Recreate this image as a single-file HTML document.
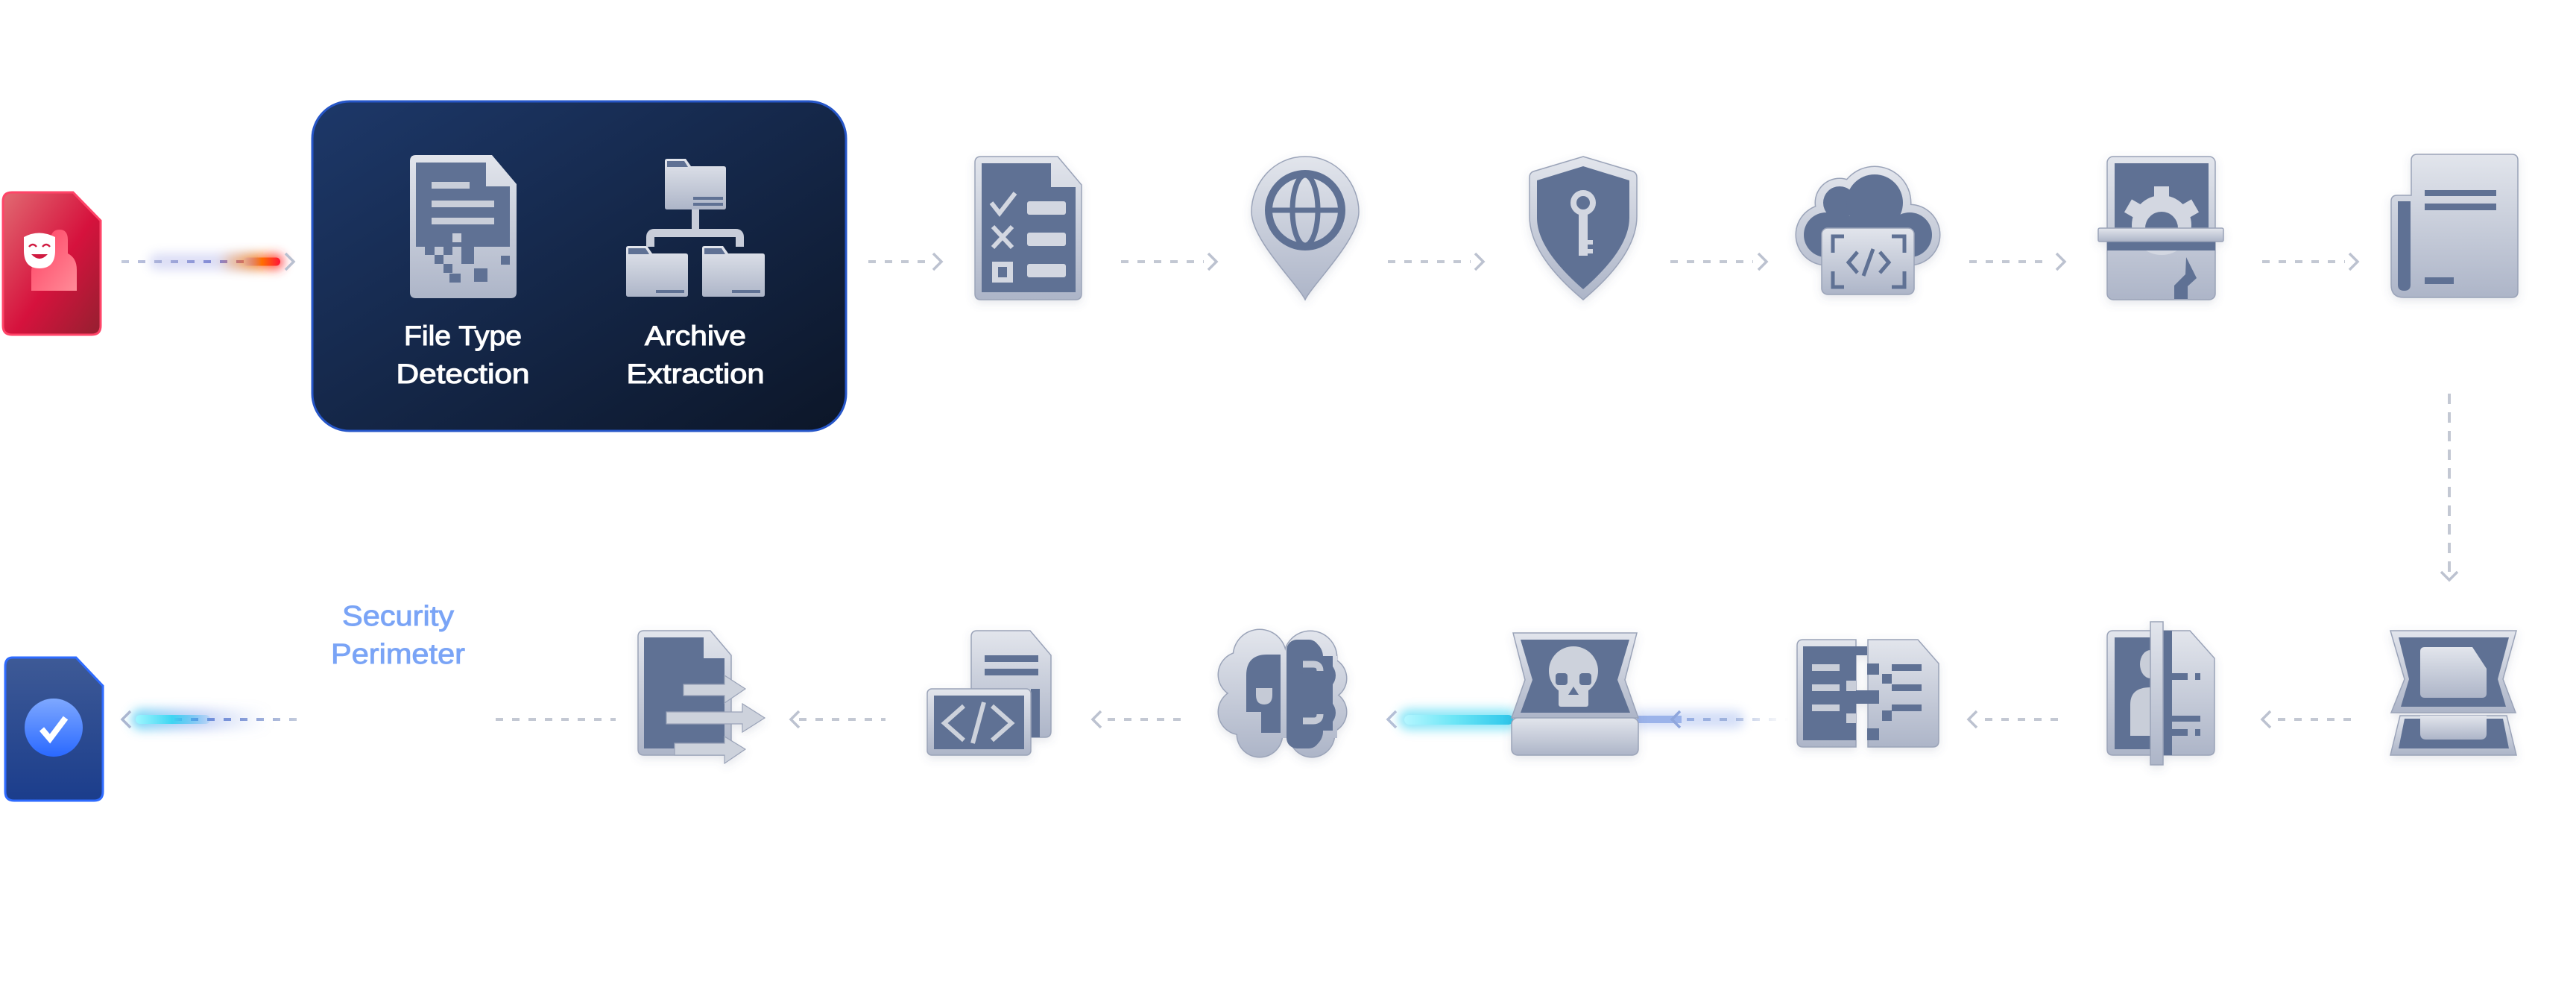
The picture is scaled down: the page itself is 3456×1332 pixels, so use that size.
<!DOCTYPE html>
<html><head><meta charset="utf-8"><style>
html,body{margin:0;padding:0;background:#fff;}
svg{display:block;}
</style></head><body>
<svg width="3456" height="1332" viewBox="0 0 3456 1332" xmlns="http://www.w3.org/2000/svg">
<defs>
<linearGradient id="gL" x1="0" y1="0" x2="0" y2="1"><stop offset="0" stop-color="#e2e5ec"/><stop offset="1" stop-color="#adb5c8"/></linearGradient>
<linearGradient id="gCloud" gradientUnits="userSpaceOnUse" x1="0" y1="225" x2="0" y2="395"><stop offset="0" stop-color="#e2e5ec"/><stop offset="1" stop-color="#adb5c8"/></linearGradient>
<linearGradient id="gBr" gradientUnits="userSpaceOnUse" x1="0" y1="847" x2="0" y2="1015"><stop offset="0" stop-color="#e2e5ec"/><stop offset="1" stop-color="#adb5c8"/></linearGradient>
<linearGradient id="gBox" x1="0" y1="0" x2="1" y2="1"><stop offset="0" stop-color="#1d3869"/><stop offset="1" stop-color="#0c1628"/></linearGradient>
<linearGradient id="gRed" x1="0" y1="0" x2="1" y2="1"><stop offset="0" stop-color="#e16a72"/><stop offset=".55" stop-color="#d6123d"/><stop offset="1" stop-color="#942030"/></linearGradient>
<linearGradient id="gPink" x1="0" y1="0" x2="1" y2="1"><stop offset="0" stop-color="#ff3f62"/><stop offset="1" stop-color="#ff8c98"/></linearGradient>
<linearGradient id="gBlue" x1="0" y1="0" x2="0" y2="1"><stop offset="0" stop-color="#3e5a96"/><stop offset="1" stop-color="#1b3d8c"/></linearGradient>
<linearGradient id="gCirc" x1="0" y1="0" x2="0" y2="1"><stop offset="0" stop-color="#7ea8ff"/><stop offset="1" stop-color="#2a69ff"/></linearGradient>
<linearGradient id="gRd" gradientUnits="userSpaceOnUse" x1="163" y1="0" x2="376" y2="0"><stop offset="0" stop-color="#c4cbdc"/><stop offset=".6" stop-color="#7f88d6"/><stop offset=".85" stop-color="#c060a0"/><stop offset="1" stop-color="#ff3030"/></linearGradient>
<linearGradient id="gRg" gradientUnits="userSpaceOnUse" x1="290" y1="0" x2="380" y2="0"><stop offset="0" stop-color="#ff7a00" stop-opacity="0"/><stop offset=".6" stop-color="#ff7a00" stop-opacity=".8"/><stop offset="1" stop-color="#ff2040"/></linearGradient>
<linearGradient id="gRp" gradientUnits="userSpaceOnUse" x1="326" y1="0" x2="376" y2="0"><stop offset="0" stop-color="#b070d0" stop-opacity="0"/><stop offset=".5" stop-color="#ff7000"/><stop offset="1" stop-color="#ff1438"/></linearGradient>
<linearGradient id="gBl" gradientUnits="userSpaceOnUse" x1="182" y1="0" x2="405" y2="0"><stop offset="0" stop-color="#4a78e0"/><stop offset=".6" stop-color="#7d95d8"/><stop offset="1" stop-color="#c8cfdc"/></linearGradient>
<linearGradient id="gCy1" gradientUnits="userSpaceOnUse" x1="182" y1="0" x2="290" y2="0"><stop offset="0" stop-color="#9ff6ff"/><stop offset=".45" stop-color="#3fd6f2"/><stop offset="1" stop-color="#3fa6f2" stop-opacity="0"/></linearGradient>
<linearGradient id="gCy2" gradientUnits="userSpaceOnUse" x1="1884" y1="0" x2="2030" y2="0"><stop offset="0" stop-color="#b4f6ff"/><stop offset=".45" stop-color="#6de6f6"/><stop offset="1" stop-color="#2cc6ea"/></linearGradient>
<linearGradient id="gLb" gradientUnits="userSpaceOnUse" x1="2198" y1="0" x2="2400" y2="0"><stop offset="0" stop-color="#8eaaea"/><stop offset=".6" stop-color="#9fb2dc"/><stop offset="1" stop-color="#d0d6e4" stop-opacity="0"/></linearGradient>
<linearGradient id="gBg" gradientUnits="userSpaceOnUse" x1="180" y1="0" x2="360" y2="0"><stop offset="0" stop-color="#3fc8f2" stop-opacity=".7"/><stop offset=".5" stop-color="#5f86e8" stop-opacity=".35"/><stop offset="1" stop-color="#8fa6e0" stop-opacity="0"/></linearGradient>
<filter id="sh" x="-20%" y="-20%" width="140%" height="150%"><feDropShadow dx="0" dy="4" stdDeviation="6" flood-color="#5a6480" flood-opacity="0.16"/></filter>
<filter id="bl" x="-30%" y="-200%" width="160%" height="500%"><feGaussianBlur stdDeviation="7"/></filter>
</defs>

<!-- ============ TOP ROW ============ -->
<path d="M16 258 H98 L135 296 V437 Q135 449 123 449 H16 Q4 449 4 437 V270 Q4 258 16 258 Z" fill="url(#gRed)" stroke="#ff4468" stroke-width="3"/>
<path d="M42 390 V364 Q42 350 56 350 H68 V322 Q68 308 80 308 Q91 308 91 322 V340 Q103 346 103 362 V390 Z" fill="url(#gPink)"/>
<path d="M32 318 Q52 307 74 318 V336 Q74 360 53 360 Q32 360 32 336 Z" fill="#fff"/>
<path d="M39 331 Q44 325 49 331 M57 331 Q62 325 67 331" stroke="#d01a40" stroke-width="2.5" fill="none"/>
<path d="M42 341 Q53 353 64 341 Z" fill="#d01a40"/>

<!-- red glow connector -->
<rect x="200" y="340" width="150" height="22" rx="11" fill="#8890e0" opacity=".3" filter="url(#bl)"/>
<line x1="163" y1="351" x2="338" y2="351" stroke="url(#gRd)" stroke-width="4" stroke-dasharray="10 12"/>
<rect x="296" y="341" width="84" height="20" rx="10" fill="url(#gRg)" filter="url(#bl)"/>
<rect x="326" y="345.5" width="50" height="11" rx="5.5" fill="url(#gRp)"/>
<polyline points="383,340 394,351 383,362" fill="none" stroke="#b9c0d0" stroke-width="3.5"/>

<!-- big box -->
<rect x="419" y="136" width="716" height="442" rx="50" fill="url(#gBox)" stroke="#2656c8" stroke-width="3"/>
<path d="M558 208 H660 L693 247 V392 Q693 400 685 400 H558 Q550 400 550 392 V216 Q550 208 558 208 Z" fill="url(#gL)"/>
<path d="M558 218 H652 V250 H684 V331 H558 Z" fill="#5f7194"/>
<rect x="607" y="313" width="12" height="12" fill="#c7ccd8"/>
<g fill="#5f7194">
<rect x="570" y="330" width="13" height="12"/><rect x="595" y="330" width="12" height="12"/><rect x="619" y="330" width="17" height="12"/>
<rect x="583" y="342" width="12" height="12"/><rect x="619" y="342" width="17" height="12"/><rect x="672" y="343" width="12" height="12"/>
<rect x="595" y="354" width="12" height="12"/><rect x="636" y="360" width="18" height="18"/><rect x="603" y="367" width="15" height="12"/>
</g>
<g fill="#c9ced9">
<rect x="579" y="244" width="51" height="9"/><rect x="579" y="269" width="84" height="9"/><rect x="579" y="292" width="84" height="9"/>
</g>
<g fill="url(#gL)">
<path d="M892 216 Q892 213 895 213 H920 L927 223 H971 Q974 223 974 226 V278 Q974 281 971 281 H895 Q892 281 892 278 Z"/>
<path d="M840 333 Q840 330 843 330 H868 L875 340 H920 Q923 340 923 343 V395 Q923 398 920 398 H843 Q840 398 840 395 Z"/>
<path d="M942 333 Q942 330 945 330 H970 L977 340 H1023 Q1026 340 1026 343 V395 Q1026 398 1023 398 H945 Q942 398 942 395 Z"/>
</g>
<g fill="#5f7194">
<path d="M895 216 H918 L923 224 H895 Z"/><path d="M843 333 H866 L871 341 H843 Z"/><path d="M945 333 H968 L973 341 H945 Z"/>
<rect x="930" y="264" width="40" height="4"/><rect x="930" y="272" width="40" height="4"/>
<rect x="880" y="389" width="38" height="4"/><rect x="982" y="389" width="38" height="4"/>
</g>
<rect x="928" y="281" width="10" height="28" fill="#c8cdd9"/>
<path d="M872.5 331 V318 Q872.5 312.5 878 312.5 H987 Q992.5 312.5 992.5 318 V331" fill="none" stroke="#c8cdd9" stroke-width="11"/>
<g font-family="Liberation Sans, Arial, sans-serif" font-size="37" fill="#fff" stroke="#fff" stroke-width="1.1" text-anchor="middle">
<text x="621" y="463" textLength="158" lengthAdjust="spacingAndGlyphs">File Type</text>
<text x="621" y="514" textLength="179" lengthAdjust="spacingAndGlyphs">Detection</text>
<text x="933" y="463" textLength="136" lengthAdjust="spacingAndGlyphs">Archive</text>
<text x="933" y="514" textLength="185" lengthAdjust="spacingAndGlyphs">Extraction</text>
</g>

<!-- plain connectors top -->
<g stroke="#c3c8d3" stroke-width="4" fill="none">
<line x1="1165" y1="351" x2="1246" y2="351" stroke-dasharray="10 12"/>
<line x1="1504" y1="351" x2="1615" y2="351" stroke-dasharray="10 12"/>
<line x1="1862" y1="351" x2="1973" y2="351" stroke-dasharray="10 12"/>
<line x1="2241" y1="351" x2="2352" y2="351" stroke-dasharray="10 12"/>
<line x1="2642" y1="351" x2="2752" y2="351" stroke-dasharray="10 12"/>
<line x1="3035" y1="351" x2="3146" y2="351" stroke-dasharray="10 12"/>
<line x1="3286" y1="528" x2="3286" y2="768" stroke-dasharray="14 11"/>
</g>
<g stroke="#bcc2d0" stroke-width="3.5" fill="none">
<polyline points="1252,340 1263,351 1252,362"/>
<polyline points="1621,340 1632,351 1621,362"/>
<polyline points="1979,340 1990,351 1979,362"/>
<polyline points="2359,340 2370,351 2359,362"/>
<polyline points="2759,340 2770,351 2759,362"/>
<polyline points="3152,340 3163,351 3152,362"/>
<polyline points="3275,767 3286,778 3297,767"/>
</g>

<!-- checklist -->
<g filter="url(#sh)">
<path d="M1316 210 H1419 L1451 248 V394 Q1451 402 1443 402 H1316 Q1308 402 1308 394 V218 Q1308 210 1316 210 Z" fill="url(#gL)" stroke="#9aa3b8" stroke-width="1.5"/>
<path d="M1317 219 H1410 V251 H1443 V392 H1317 Z" fill="#5f7194"/>
<polyline points="1330,272 1341,286 1362,259" fill="none" stroke="#d3d7e1" stroke-width="6"/>
<path d="M1332 304 L1358 332 M1358 304 L1332 332" stroke="#d3d7e1" stroke-width="6"/>
<rect x="1331" y="351" width="28" height="28" fill="#d3d7e1"/><rect x="1339" y="358" width="12" height="14" fill="#5f7194"/>
<rect x="1378" y="270" width="52" height="18" rx="3" fill="#d3d7e1"/>
<rect x="1378" y="312" width="52" height="18" rx="3" fill="#d3d7e1"/>
<rect x="1378" y="354" width="52" height="18" rx="3" fill="#d3d7e1"/>
</g>

<!-- globe pin -->
<g filter="url(#sh)">
<path d="M1751 210 C1795 210 1823 248 1823 284 C1823 322 1762 380 1751 402 C1740 380 1679 322 1679 284 C1679 248 1707 210 1751 210 Z" fill="url(#gL)" stroke="#9aa3b8" stroke-width="1.5"/>
<circle cx="1751" cy="282" r="49" fill="none" stroke="#5f7194" stroke-width="10"/>
<ellipse cx="1751" cy="282" rx="17" ry="47" fill="none" stroke="#5f7194" stroke-width="7"/>
<line x1="1703" y1="282" x2="1799" y2="282" stroke="#5f7194" stroke-width="7"/>
</g>

<!-- shield -->
<g filter="url(#sh)">
<path d="M2124 210 L2191 230 Q2196 232 2196 238 V290 C2196 332 2160 372 2124 402 C2088 372 2052 332 2052 290 V238 Q2052 232 2057 230 Z" fill="url(#gL)" stroke="#9aa3b8" stroke-width="1.5"/>
<path d="M2124 223 L2186 242 V292 C2186 326 2156 360 2124 388 C2092 360 2062 326 2062 292 V242 Z" fill="#5f7194"/>
<circle cx="2124" cy="272" r="13" fill="none" stroke="#d3d7e1" stroke-width="8"/>
<rect x="2118" y="284" width="12" height="59" fill="#d3d7e1"/>
<rect x="2129" y="322" width="8" height="6" fill="#d3d7e1"/><rect x="2129" y="334" width="8" height="6" fill="#d3d7e1"/>
</g>

<!-- cloud code -->
<g filter="url(#sh)">
<g fill="#9aa3b8">
<circle cx="2450" cy="315" r="41.5"/><circle cx="2468" cy="272" r="33.5"/><circle cx="2515" cy="272" r="49.5"/><circle cx="2562" cy="315" r="41.5"/><rect x="2450" y="290" width="112" height="66.5"/>
</g>
<g fill="url(#gCloud)">
<circle cx="2450" cy="315" r="40"/><circle cx="2468" cy="272" r="32"/><circle cx="2515" cy="272" r="48"/><circle cx="2562" cy="315" r="40"/><rect x="2450" y="290" width="112" height="65"/>
</g>
<g fill="#5f7194">
<circle cx="2450" cy="315" r="30"/><circle cx="2468" cy="272" r="22"/><circle cx="2515" cy="272" r="38"/><circle cx="2562" cy="315" r="30"/><rect x="2450" y="290" width="112" height="55"/>
</g>
<rect x="2444" y="306" width="124" height="89" rx="8" fill="url(#gL)" stroke="#9aa3b8" stroke-width="1.5"/>
<g fill="none" stroke="#5f7194" stroke-width="5">
<polyline points="2474,317 2459,317 2459,339"/><polyline points="2538,317 2555,317 2555,339"/>
<polyline points="2459,364 2459,385 2474,385"/><polyline points="2555,364 2555,385 2538,385"/>
<polyline points="2492,338 2480,352 2492,366"/><polyline points="2522,338 2534,352 2522,366"/>
<line x1="2513" y1="334" x2="2500" y2="370"/>
</g>
</g>

<!-- gear scroll -->
<g filter="url(#sh)">
<rect x="2827" y="210" width="145" height="192" rx="8" fill="url(#gL)" stroke="#9aa3b8" stroke-width="1.5"/>
<rect x="2837" y="219" width="126" height="88" fill="#5f7194"/>
<g fill="#d3d7e1">
<circle cx="2900" cy="302" r="40"/>
<rect x="2890" y="250" width="20" height="18"/>
<rect x="2890" y="250" width="20" height="18" transform="rotate(-60 2900 302)"/>
<rect x="2890" y="250" width="20" height="18" transform="rotate(60 2900 302)"/>
<rect x="2890" y="250" width="20" height="18" transform="rotate(-110 2900 302)"/>
<rect x="2890" y="250" width="20" height="18" transform="rotate(110 2900 302)"/>
</g>
<circle cx="2900" cy="306" r="22" fill="#5f7194"/>
<rect x="2827" y="324" width="145" height="12" fill="#5f7194"/>
<rect x="2815" y="306" width="168" height="18" rx="2" fill="url(#gL)" stroke="#9aa3b8" stroke-width="1.5"/>
<path d="M2933 345 L2947 373 L2935 384 V401 H2917 V383 L2932 368 Z" fill="#5f7194"/>
</g>

<!-- newspaper -->
<g filter="url(#sh)">
<path d="M3243 207 H3370 Q3378 207 3378 215 V391 Q3378 399 3370 399 H3225 Q3208 399 3208 382 V270 Q3208 262 3216 262 H3235 V215 Q3235 207 3243 207 Z" fill="url(#gL)" stroke="#9aa3b8" stroke-width="1.5"/>
<path d="M3217 270 H3234 V382 Q3234 390 3225.5 390 Q3217 390 3217 382 Z" fill="#5f7194"/>
<rect x="3253" y="255" width="96" height="8" fill="#5f7194"/>
<rect x="3253" y="273" width="96" height="9" fill="#5f7194"/>
<rect x="3253" y="372" width="39" height="9" fill="#5f7194"/>
</g>

<!-- ============ BOTTOM ROW ============ -->
<path d="M17 882 H102 L138 920 V1062 Q138 1074 126 1074 H19 Q7 1074 7 1062 V894 Q7 882 17 882 Z" fill="url(#gBlue)" stroke="#2e6bff" stroke-width="3"/>
<circle cx="72" cy="976" r="39" fill="url(#gCirc)"/>
<polyline points="56,978 67,991 88,963" fill="none" stroke="#fff" stroke-width="8"/>

<!-- cyan glow to file -->
<rect x="176" y="951" width="190" height="28" rx="14" fill="url(#gBg)" filter="url(#bl)"/>
<line x1="190" y1="965" x2="405" y2="965" stroke="url(#gBl)" stroke-width="4" stroke-dasharray="10 12"/>
<rect x="182" y="959" width="100" height="12" rx="6" fill="url(#gCy1)"/>
<polyline points="175,954 164,965 175,976" fill="none" stroke="#aab6d0" stroke-width="3.5"/>

<!-- Security Perimeter -->
<g font-family="Liberation Sans, Arial, sans-serif" font-size="38" fill="#7aa4f6" stroke="#7aa4f6" stroke-width="0.9" text-anchor="middle">
<text x="534" y="839" textLength="150" lengthAdjust="spacingAndGlyphs">Security</text>
<text x="534" y="890" textLength="180" lengthAdjust="spacingAndGlyphs">Perimeter</text>
</g>

<!-- plain connectors bottom -->
<g stroke="#c3c8d3" stroke-width="4" fill="none">
<line x1="665" y1="965" x2="826" y2="965" stroke-dasharray="10 12"/>
<line x1="1072" y1="965" x2="1188" y2="965" stroke-dasharray="10 12"/>
<line x1="1486" y1="965" x2="1594" y2="965" stroke-dasharray="10 12"/>
<line x1="2663" y1="965" x2="2770" y2="965" stroke-dasharray="10 12"/>
<line x1="3056" y1="965" x2="3163" y2="965" stroke-dasharray="10 12"/>
</g>
<g stroke="#bcc2d0" stroke-width="3.5" fill="none">
<polyline points="1072,954 1061,965 1072,976"/>
<polyline points="1477,954 1466,965 1477,976"/>
<polyline points="2652,954 2641,965 2652,976"/>
<polyline points="3046,954 3035,965 3046,976"/>
</g>

<!-- cyan glow brain<-skull -->
<rect x="1876" y="951" width="160" height="28" rx="14" fill="#3fd6f2" opacity=".6" filter="url(#bl)"/>
<rect x="1884" y="959" width="146" height="13" rx="6.5" fill="url(#gCy2)"/>
<polyline points="1873,954 1862,965 1873,976" fill="none" stroke="#b4bfd6" stroke-width="3.5"/>

<!-- light blue glow skull<-pixel -->
<rect x="2190" y="953" width="150" height="24" rx="12" fill="#9fb6ee" opacity=".45" filter="url(#bl)"/>
<rect x="2196" y="960" width="60" height="10" fill="#9bb3ea"/>
<line x1="2263" y1="965" x2="2400" y2="965" stroke="url(#gLb)" stroke-width="4" stroke-dasharray="10 12"/>
<polyline points="2254,954 2243,965 2254,976" fill="none" stroke="#8fa6dc" stroke-width="3.5"/>

<!-- doc with arrows -->
<g filter="url(#sh)">
<path d="M864 846 H953 L981 879 V1005 Q981 1013 973 1013 H864 Q856 1013 856 1005 V854 Q856 846 864 846 Z" fill="url(#gL)" stroke="#9aa3b8" stroke-width="1.5"/>
<path d="M864 855 H944 V883 H972 V1004 H864 Z" fill="#5f7194"/>
<g fill="#cdd2dc" stroke="#9aa3b8" stroke-width="1.2">
<path d="M917 918 H972 V906 L1000 924 L972 943 V933 H917 Z"/>
<path d="M894 955 H996 V944 L1026 963 L996 982 V971 H894 Z"/>
<path d="M905 997 H972 V988 L1000 1005 L972 1024 V1013 H905 Z"/>
</g>
</g>

<!-- code doc -->
<g filter="url(#sh)">
<path d="M1311 846 H1382 L1410 879 V981 Q1410 989 1402 989 H1311 Q1303 989 1303 981 V854 Q1303 846 1311 846 Z" fill="url(#gL)" stroke="#9aa3b8" stroke-width="1.5"/>
<rect x="1321" y="879" width="72" height="9" fill="#5f7194"/>
<rect x="1321" y="897" width="72" height="9" fill="#5f7194"/>
<rect x="1383" y="924" width="12" height="65" fill="#5f7194"/>
<rect x="1244" y="924" width="139" height="89" rx="6" fill="url(#gL)" stroke="#9aa3b8" stroke-width="1.5"/>
<rect x="1253" y="933" width="121" height="72" fill="#5f7194"/>
<g fill="none" stroke="#cdd2dc" stroke-width="6">
<polyline points="1293,947 1267,970 1293,993"/>
<polyline points="1331,947 1357,970 1331,993"/>
<line x1="1320" y1="942" x2="1305" y2="997"/>
</g>
</g>

<!-- brain -->
<g filter="url(#sh)">
<g fill="#9aa3b8">
<circle cx="1690" cy="880" r="36.5"/><circle cx="1665" cy="905" r="31.5"/><circle cx="1665" cy="955" r="31.5"/><circle cx="1690" cy="985" r="31.5"/>
<circle cx="1758" cy="882" r="36.5"/><circle cx="1778" cy="910" r="29.5"/><circle cx="1778" cy="955" r="29.5"/><circle cx="1760" cy="985" r="31.5"/>
<rect x="1668" y="880" width="126" height="110"/>
</g>
<g fill="url(#gBr)">
<circle cx="1690" cy="880" r="35"/><circle cx="1665" cy="905" r="30"/><circle cx="1665" cy="955" r="30"/><circle cx="1690" cy="985" r="30"/>
<circle cx="1758" cy="882" r="35"/><circle cx="1778" cy="910" r="28"/><circle cx="1778" cy="955" r="28"/><circle cx="1760" cy="985" r="30"/>
<rect x="1668" y="880" width="126" height="110"/>
</g>
<g fill="#5f7194">
<rect x="1726" y="858" width="44" height="146" rx="14"/>
<circle cx="1752" cy="881" r="23"/><circle cx="1772" cy="906" r="20"/><circle cx="1772" cy="956" r="20"/><circle cx="1752" cy="981" r="23"/>
<rect x="1750" y="880" width="38" height="100"/>
<path d="M1718 878 V983 H1692 V955 H1672 V906 Q1672 878 1700 878 Z"/>
</g>
<path d="M1685 923 H1707 V932 Q1707 945 1696 945 Q1685 945 1685 932 Z" fill="#c5cad6"/>
<path d="M1748 891 H1762 Q1771 891 1771 900 M1748 967 H1762 Q1771 967 1771 958" fill="none" stroke="#c5cad6" stroke-width="9"/>
</g>

<!-- skull box -->
<g filter="url(#sh)">
<polygon points="2030,849 2196,849 2180,912 2198,963 2028,963 2046,912" fill="url(#gL)" stroke="#9aa3b8" stroke-width="1.5"/>
<polygon points="2040,858 2186,858 2170,912 2187,956 2040,956 2056,912" fill="#5f7194"/>
<circle cx="2111" cy="900" r="33" fill="#cdd2dc"/>
<rect x="2091" y="922" width="40" height="26" rx="3" fill="#cdd2dc"/>
<rect x="2087" y="903" width="16" height="16" rx="4" fill="#5f7194"/>
<rect x="2119" y="903" width="16" height="16" rx="4" fill="#5f7194"/>
<polygon points="2111,921 2104,932 2118,932" fill="#5f7194"/>
<rect x="2028" y="963" width="170" height="50" rx="8" fill="url(#gL)" stroke="#9aa3b8" stroke-width="1.5"/>
</g>

<!-- pixel doc -->
<g filter="url(#sh)">
<path d="M2419 858 H2490 V1002 H2419 Q2411 1002 2411 994 V866 Q2411 858 2419 858 Z" fill="url(#gL)" stroke="#9aa3b8" stroke-width="1.5"/>
<path d="M2506 858 H2573 L2601 890 V994 Q2601 1002 2593 1002 H2506 Z" fill="url(#gL)" stroke="#9aa3b8" stroke-width="1.5"/>
<rect x="2419" y="867" width="71" height="126" fill="#5f7194"/>
<g fill="#c9ced9">
<rect x="2431" y="891" width="37" height="9"/><rect x="2431" y="918" width="37" height="9"/><rect x="2431" y="945" width="37" height="9"/>
<rect x="2477" y="913" width="13" height="14"/><rect x="2477" y="957" width="13" height="13"/>
</g>
<g fill="#5f7194">
<rect x="2538" y="891" width="40" height="9"/><rect x="2538" y="918" width="40" height="9"/><rect x="2538" y="945" width="40" height="9"/>
<rect x="2490" y="867" width="15" height="12"/><rect x="2505" y="890" width="16" height="15"/><rect x="2525" y="904" width="13" height="13"/>
<rect x="2490" y="926" width="31" height="18"/><rect x="2525" y="953" width="13" height="14"/><rect x="2505" y="977" width="16" height="16"/>
</g>
</g>

<!-- ID doc -->
<g filter="url(#sh)">
<path d="M2835 846 H2938 L2971 883 V1005 Q2971 1013 2963 1013 H2835 Q2827 1013 2827 1005 V854 Q2827 846 2835 846 Z" fill="url(#gL)" stroke="#9aa3b8" stroke-width="1.5"/>
<rect x="2837" y="855" width="48" height="150" fill="#5f7194"/>
<ellipse cx="2885" cy="891" rx="14" ry="19" fill="#c9ced9"/>
<path d="M2858 987 V945 Q2858 922 2885 922 V987 Z" fill="#c9ced9"/>
<rect x="2902" y="846" width="12" height="167" fill="#5f7194"/>
<g fill="#5f7194">
<rect x="2914" y="903" width="21" height="9"/><rect x="2945" y="903" width="7" height="9"/>
<rect x="2914" y="960" width="38" height="8"/><rect x="2914" y="978" width="21" height="9"/><rect x="2945" y="978" width="7" height="9"/>
</g>
<rect x="2885" y="834" width="17" height="192" fill="url(#gL)" stroke="#9aa3b8" stroke-width="1.5"/>
</g>

<!-- scanner -->
<g filter="url(#sh)">
<polygon points="3207,846 3376,846 3358,911 3375,956 3208,956 3226,911" fill="url(#gL)" stroke="#9aa3b8" stroke-width="1.5"/>
<polygon points="3218,855 3366,855 3351,911 3362,948 3221,948 3232,911" fill="#5f7194"/>
<path d="M3253 868 H3317 L3336 897 V930 Q3336 936 3330 936 H3253 Q3247 936 3247 930 V874 Q3247 868 3253 868 Z" fill="url(#gL)"/>
<polygon points="3220,960 3363,960 3376,1013 3207,1013" fill="url(#gL)" stroke="#9aa3b8" stroke-width="1.5"/>
<polygon points="3226,964 3358,964 3366,1004 3218,1004" fill="#5f7194"/>
<path d="M3247 960 H3336 V984 Q3336 992 3328 992 H3255 Q3247 992 3247 984 Z" fill="url(#gL)"/>
</g>
</svg>
</body></html>
